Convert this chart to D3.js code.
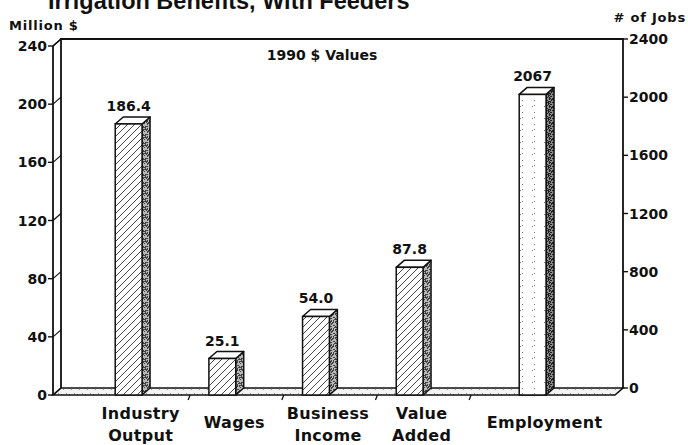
<!DOCTYPE html>
<html>
<head>
<meta charset="utf-8">
<script src="https://cdn.jsdelivr.net/npm/d3@7"></script>
<style>
  html, body { margin: 0; padding: 0; background: #fff; }
  svg { display: block; }
  .tick-label { font-family: "DejaVu Sans", sans-serif; font-weight: bold; font-size: 14px; fill: #111; }
  .cat-label { font-family: "DejaVu Sans", sans-serif; font-weight: bold; font-size: 16px; letter-spacing: 0.3px; fill: #111; }
  .unit-label { font-family: "DejaVu Sans", sans-serif; font-weight: bold; font-size: 13px; letter-spacing: 0.8px; fill: #111; }
</style>
</head>
<body>
<svg id="chart" width="688" height="445"></svg>
<script>
// Economic impact of irrigation benefits (with feeders), 1990 dollars
const categories = ["Industry Output", "Wages", "Business Income", "Value Added", "Employment"];
const categoryLines = [["Industry", "Output"], ["Wages"], ["Business", "Income"], ["Value", "Added"], ["Employment"]];
const millionValues = [186.4, 25.1, 54.0, 87.8, null];   // Million $
const jobValues = [null, null, null, null, 2067];         // # of Jobs
const valueLabels = ["186.4", "25.1", "54.0", "87.8", "2067"];
const millionTicks = [0, 40, 80, 120, 160, 200, 240];
const jobTicks = [0, 400, 800, 1200, 1600, 2000, 2400];
const seriesKeys = ["million", "jobs"];

const svg = d3.select("#chart");

// 3-D depth offset of the back plane
const DX = 8, DY = -7;

const plotLeft = 53, plotRight = 615, plotBottom = 395, plotTop = 46;

const x = d3.scaleBand().domain(categories).range([plotLeft, plotRight])
  .paddingInner(0).paddingOuter(0.5).align(0.464);
const xs = d3.scaleBand().domain(seriesKeys).range([0, x.bandwidth()])
  .paddingInner(0.085).paddingOuter(0.64);
const yM = d3.scaleLinear().domain([0, 240]).range([plotBottom, plotTop]);
const yJ = d3.scaleLinear().domain([0, 2400]).range([plotBottom, plotTop]);

// ---------- fill patterns ----------
const defs = svg.append("defs");
const hatch = defs.append("pattern").attr("id", "hatch")
  .attr("patternUnits", "userSpaceOnUse").attr("width", 7).attr("height", 7);
hatch.append("rect").attr("width", 7).attr("height", 7).attr("fill", "#fff");
hatch.append("path").attr("d", "M-1,1 l2,-2 M0,7 l7,-7 M6,8 l2,-2")
  .attr("stroke", "#333").attr("stroke-width", 0.9);

function stipple(id, bg, dot, n, size, seedStart) {
  const p = defs.append("pattern").attr("id", id)
    .attr("patternUnits", "userSpaceOnUse").attr("width", size).attr("height", size);
  p.append("rect").attr("width", size).attr("height", size).attr("fill", bg);
  let s = seedStart;
  const rnd = () => { s = (s * 9301 + 49297) % 233280; return s / 233280; };
  for (let i = 0; i < n; i++) {
    p.append("rect").attr("x", Math.floor(rnd() * size)).attr("y", Math.floor(rnd() * size))
      .attr("width", 1).attr("height", 1).attr("fill", dot);
  }
}
stipple("sideGrey", "#b8b8b8", "#444", 40, 8, 7);
stipple("sideDark", "#8a8a8a", "#222", 40, 8, 11);
stipple("floorDots", "#f2f2f2", "#999", 6, 8, 3);
stipple("lightDots", "#fff", "#777", 3, 12, 5);

const ink = "#111";

// ---------- floor ----------
const g = svg.append("g");
g.append("path")
  .attr("d", `M${plotLeft},${plotBottom} L${plotLeft + DX},${plotBottom + DY} L${plotRight + DX},${plotBottom + DY} L${plotRight},${plotBottom} Z`)
  .attr("fill", "url(#floorDots)").attr("stroke", ink).attr("stroke-width", 1.6);

// back wall outline (left back edge, top edge, right axis)
g.append("path")
  .attr("d", `M${plotLeft + DX},${plotBottom + DY} L${plotLeft + DX},${plotTop + DY} L${plotRight + DX},${plotTop + DY} L${plotRight + DX},${plotBottom + DY}`)
  .attr("fill", "none").attr("stroke", ink).attr("stroke-width", 1.8);

// front left axis line
g.append("line").attr("x1", plotLeft).attr("x2", plotLeft).attr("y1", plotBottom).attr("y2", plotTop)
  .attr("stroke", ink).attr("stroke-width", 1.8);
g.append("line").attr("x1", plotLeft).attr("x2", plotLeft + DX).attr("y1", plotTop).attr("y2", plotTop + DY)
  .attr("stroke", ink).attr("stroke-width", 1.4);

// ---------- left axis (Million $) ----------
const leftAxis = g.append("g");
millionTicks.forEach(t => {
  const yy = yM(t);
  leftAxis.append("line").attr("x1", plotLeft - 5).attr("x2", plotLeft).attr("y1", yy).attr("y2", yy)
    .attr("stroke", ink).attr("stroke-width", 1.4);
  leftAxis.append("line").attr("x1", plotLeft).attr("x2", plotLeft + DX).attr("y1", yy).attr("y2", yy + DY)
    .attr("stroke", ink).attr("stroke-width", 1.2);
  leftAxis.append("text").attr("class", "tick-label")
    .attr("x", plotLeft - 6).attr("y", yy + 5).attr("text-anchor", "end").text(t);
});

// ---------- right axis (# of Jobs), on the back plane ----------
const rightAxis = g.append("g").attr("transform", `translate(${DX},${DY})`);
jobTicks.forEach(t => {
  const yy = yJ(t);
  rightAxis.append("line").attr("x1", plotRight).attr("x2", plotRight + 5).attr("y1", yy).attr("y2", yy)
    .attr("stroke", ink).attr("stroke-width", 1.4);
  rightAxis.append("text").attr("class", "tick-label")
    .attr("x", plotRight + 6).attr("y", yy + 5).attr("text-anchor", "start").text(t);
});

// floor ticks at category boundaries
categories.slice(1).forEach(c => {
  const xx = x(c);
  g.append("line").attr("x1", xx).attr("x2", xx - 2).attr("y1", plotBottom).attr("y2", plotBottom + 5)
    .attr("stroke", ink).attr("stroke-width", 1.3);
});

// ---------- bars ----------
const bars = [];
categories.forEach((c, i) => {
  if (millionValues[i] != null) bars.push({ c, i, key: "million", yTop: yM(millionValues[i]) });
  if (jobValues[i] != null) bars.push({ c, i, key: "jobs", yTop: yJ(jobValues[i]) });
});

const barG = g.append("g");
bars.forEach(b => {
  const x0 = x(b.c) + xs(b.key), w = xs.bandwidth();
  const yt = b.yTop;
  const bg = barG.append("g");
  // side face
  bg.append("path")
    .attr("d", `M${x0 + w},${plotBottom} L${x0 + w},${yt} L${x0 + w + DX},${yt + DY} L${x0 + w + DX},${plotBottom + DY} Z`)
    .attr("fill", b.key === "jobs" ? "url(#sideDark)" : "url(#sideGrey)")
    .attr("stroke", ink).attr("stroke-width", 1.5).attr("stroke-linejoin", "round");
  // top face
  bg.append("path")
    .attr("d", `M${x0},${yt} L${x0 + DX},${yt + DY} L${x0 + w + DX},${yt + DY} L${x0 + w},${yt} Z`)
    .attr("fill", "#fff").attr("stroke", ink).attr("stroke-width", 1.5).attr("stroke-linejoin", "round");
  // front face
  bg.append("rect").attr("x", x0).attr("y", yt).attr("width", w).attr("height", plotBottom - yt)
    .attr("fill", b.key === "jobs" ? "url(#lightDots)" : "url(#hatch)")
    .attr("stroke", ink).attr("stroke-width", 1.5);
  // value label
  bg.append("text").attr("class", "tick-label")
    .attr("x", x0 + w / 2).attr("y", yt - 13).attr("text-anchor", "middle")
    .text(valueLabels[b.i]);
});

// ---------- category labels ----------
bars.forEach(b => {
  const cx = x(b.c) + xs(b.key) + xs.bandwidth() / 2 + DX + 4;
  const lines = categoryLines[b.i];
  const t = g.append("text").attr("class", "cat-label").attr("text-anchor", "middle");
  if (lines.length === 1) {
    t.append("tspan").attr("x", cx).attr("y", 428).text(lines[0]);
  } else {
    t.append("tspan").attr("x", cx).attr("y", 419).text(lines[0]);
    t.append("tspan").attr("x", cx).attr("y", 441).text(lines[1]);
  }
});

// ---------- titles ----------
svg.append("text")
  .attr("x", 48).attr("y", 9)
  .style("font-family", "'Liberation Sans', Arial, sans-serif").style("font-weight", "bold")
  .style("font-size", "23.5px").attr("fill", ink)
  .text("Irrigation Benefits, With Feeders");
svg.append("text").attr("class", "unit-label").attr("x", 9).attr("y", 30).text("Million $");
svg.append("text").attr("class", "unit-label").attr("x", 686).attr("y", 22)
  .attr("text-anchor", "end").text("# of Jobs");
svg.append("text")
  .attr("x", 322).attr("y", 60).attr("text-anchor", "middle")
  .style("font-family", "'DejaVu Sans', sans-serif").style("font-weight", "bold")
  .style("font-size", "14px").attr("fill", ink)
  .text("1990 $ Values");
</script>
</body>
</html>
